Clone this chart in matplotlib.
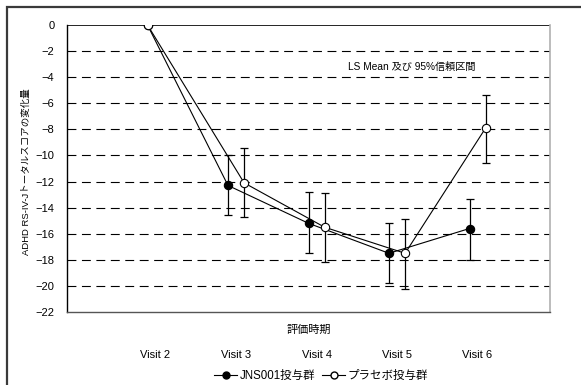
import numpy as np
import matplotlib
matplotlib.use("Agg")
import matplotlib.pyplot as plt
from matplotlib.patches import Rectangle
from matplotlib.lines import Line2D

plt.rcParams['font.family'] = ['Liberation Sans', 'Noto Sans CJK JP']

# LS mean change from baseline with 95% CI
visits = ['Visit 2', 'Visit 3', 'Visit 4', 'Visit 5', 'Visit 6']
jns_mean = [0.0, -12.3, -15.2, -17.5, -15.6]
jns_low = [0.0, -14.6, -17.5, -19.8, -18.0]
jns_high = [0.0, -10.0, -12.8, -15.2, -13.3]
pla_mean = [0.0, -12.1, -15.5, -17.5, -7.9]
pla_low = [0.0, -14.7, -18.2, -20.2, -10.6]
pla_high = [0.0, -9.4, -12.9, -14.9, -5.4]

fig = plt.figure(figsize=(5.81, 3.85), dpi=100)
ax = fig.add_axes([67 / 581, 1 - 312 / 385, 483 / 581, 287 / 385])

# outer frame (only top and left edges visible)
fig.add_artist(Rectangle((7 / 581, -0.1), 1.2, 1 - 7 / 385 + 0.1,
                         transform=fig.transFigure, fill=False,
                         edgecolor='#3a3a3a', linewidth=1.6))

xc = np.arange(2, 2 + len(visits))
x_jns = xc - 0.1
x_pla = xc + 0.1
x_pla[0] = xc[0] - 0.1


def draw_group(x, mean, low, high, face):
    mean = np.array(mean)
    yerr = [mean - np.array(low), np.array(high) - mean]
    ax.errorbar(x[1:], mean[1:], yerr=[yerr[0][1:], yerr[1][1:]], fmt='none',
                ecolor='black', elinewidth=0.9, capsize=3, capthick=0.9, zorder=3)
    ax.plot(x, mean, color='black', lw=0.8, marker='o', ms=6,
            markerfacecolor=face, markeredgecolor='black', markeredgewidth=0.8,
            zorder=4)


draw_group(x_jns, jns_mean, jns_low, jns_high, 'black')
draw_group(x_pla, pla_mean, pla_low, pla_high, 'white')

ax.set_xlim(0.9, 6.9)
ax.set_ylim(-22, 0)
ax.set_yticks(np.arange(-22, 1, 2))
for v in range(-20, 0, 2):
    ax.axhline(v, color='black', lw=0.8, ls=(0, (8, 5)), zorder=1)
ax.axhline(0, color='black', lw=1.2, zorder=2)

ax.set_xticks(xc)
ax.set_xticklabels(visits)
ax.tick_params(axis='x', length=0, pad=27, labelsize=8)
ax.tick_params(axis='y', length=0, pad=9, labelsize=8)

ax.spines['top'].set_visible(False)
ax.spines['left'].set_color('black')
ax.spines['left'].set_linewidth(1.0)
ax.spines['bottom'].set_color('#555555')
ax.spines['bottom'].set_linewidth(1.0)
ax.spines['right'].set_color('#b0b0b0')
ax.spines['right'].set_linewidth(1.2)

ax.set_xlabel('評価時期', fontsize=8)
ax.xaxis.set_label_coords(0.5, -0.045)
ax.set_ylabel('ADHD RS-IV-Jトータルスコアの変化量', fontsize=6.8)
ax.yaxis.set_label_coords(-0.075, 0.49)

ax.text(0.714, 0.855, 'LS Mean 及び 95%信頼区間', transform=ax.transAxes,
        ha='center', va='center', fontsize=7.3)

handles = [
    Line2D([], [], color='black', lw=0.8, marker='o', ms=5,
           markerfacecolor='black', markeredgecolor='black'),
    Line2D([], [], color='black', lw=0.8, marker='o', ms=5,
           markerfacecolor='white', markeredgecolor='black'),
]
fig.legend(handles, ['JNS001投与群', 'プラセボ投与群'], loc='center',
           bbox_to_anchor=(321 / 581, 1 - 376 / 385), ncol=2, frameon=False,
           fontsize=8.3, handlelength=2.0, handletextpad=0.2, columnspacing=0.6)

fig.savefig('out.png', dpi=100, facecolor='white')
